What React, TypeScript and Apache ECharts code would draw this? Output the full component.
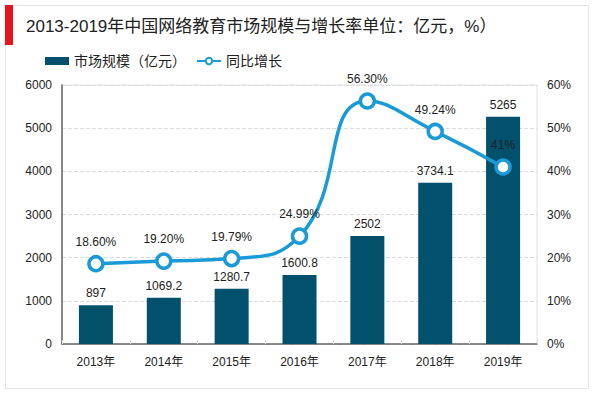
import React, { useEffect, useRef } from "react";
import * as echarts from "echarts";

const categories = ["2013年", "2014年", "2015年", "2016年", "2017年", "2018年", "2019年"];
const marketSize = [897, 1069.2, 1280.7, 1600.8, 2502, 3734.1, 5265];
const growthRate = [18.6, 19.2, 19.79, 24.99, 56.3, 49.24, 41];
const growthLabels = ["18.60%", "19.20%", "19.79%", "24.99%", "56.30%", "49.24%", "41%"];

const FONT = "Liberation Sans, Arial, Noto Sans CJK SC, sans-serif";

export default function App() {
  const ref = useRef<HTMLDivElement>(null);
  useEffect(() => {
    if (!ref.current) return;
    const chart = echarts.init(ref.current, undefined, { renderer: "svg" });
    chart.setOption({
      animation: false,
      backgroundColor: "#ffffff",
      textStyle: { fontFamily: FONT },
      graphic: [
        { type: "rect", shape: { x: 5.5, y: 5.5, width: 583, height: 383 }, style: { fill: "none", stroke: "#e3e3e3", lineWidth: 1 } },
        { type: "rect", shape: { x: 5, y: 5, width: 8, height: 40 }, style: { fill: "#e8141b" } },
        { type: "text", x: 26, y: 26, style: { text: "2013-2019年中国网络教育市场规模与增长率单位：亿元，%）", fill: "#222", font: `17px ${FONT}`, textVerticalAlign: "middle" } },
        { type: "rect", shape: { x: 62, y: 85, width: 475, height: 259 }, style: { fill: "none", stroke: "#e0e0e0", lineWidth: 1 }, z: -1 }
      ],
      legend: {
        left: 40,
        top: 49,
        itemGap: 10,
        itemWidth: 24,
        itemHeight: 8,
        textStyle: { fontSize: 14, color: "#222", fontFamily: FONT },
        data: [
          { name: "市场规模（亿元）", icon: "rect" },
          { name: "同比增长" }
        ]
      },
      grid: { left: 62, right: 63, top: 85, bottom: 49 },
      xAxis: {
        type: "category",
        data: categories,
        axisLine: { lineStyle: { color: "#666", width: 1.5 } },
        axisTick: { show: true, inside: true, length: 6, lineStyle: { color: "#ddd", type: "dashed" } },
        axisLabel: { color: "#222", fontSize: 12, margin: 12 }
      },
      yAxis: [
        {
          type: "value",
          min: 0,
          max: 6000,
          interval: 1000,
          axisLine: { show: true, lineStyle: { color: "#666", width: 1.5 } },
          axisTick: { show: false },
          axisLabel: { color: "#222", fontSize: 12, margin: 10, formatter: (v: number) => String(v) },
          splitLine: { lineStyle: { color: "#dcdcdc", type: "dashed" } }
        },
        {
          type: "value",
          min: 0,
          max: 60,
          interval: 10,
          axisLine: { show: false },
          axisTick: { show: false },
          axisLabel: { color: "#222", fontSize: 12, margin: 10, formatter: "{value}%" },
          splitLine: { show: false }
        }
      ],
      series: [
        {
          name: "市场规模（亿元）",
          type: "bar",
          data: marketSize,
          barWidth: 34,
          itemStyle: { color: "#02506c" },
          label: { show: true, position: "top", color: "#222", fontSize: 12, distance: 6 }
        },
        {
          name: "同比增长",
          type: "line",
          yAxisIndex: 1,
          data: growthRate,
          smooth: true,
          symbol: "circle",
          symbolSize: 14,
          lineStyle: { color: "#1a9ad6", width: 3.5 },
          itemStyle: { color: "#ffffff", borderColor: "#1a9ad6", borderWidth: 3.5 },
          label: {
            show: true,
            position: "top",
            distance: 7,
            color: "#222",
            fontSize: 12,
            formatter: (p: any) => growthLabels[p.dataIndex]
          }
        }
      ]
    });
    return () => chart.dispose();
  }, []);
  return <div ref={ref} style={{ width: 600, height: 393, position: "absolute", left: 0, top: 0 }} />;
}
